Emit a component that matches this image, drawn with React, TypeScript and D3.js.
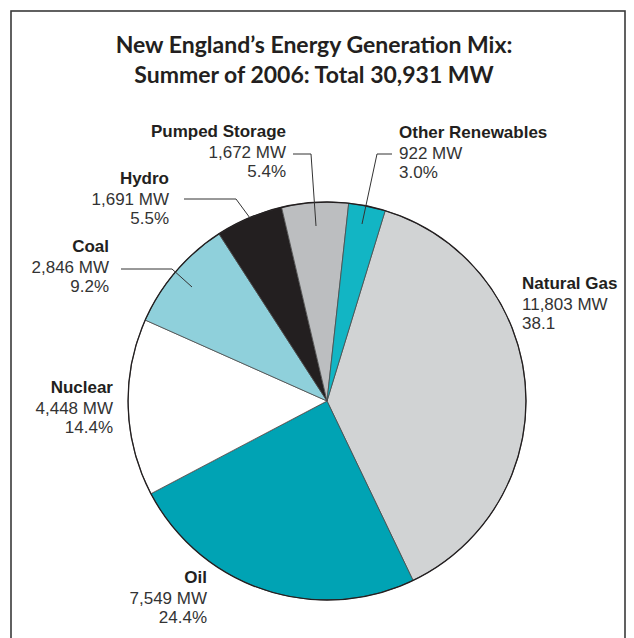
import React from "react";
import * as d3 from "d3";

const categories = ["Natural Gas", "Oil", "Nuclear", "Coal", "Hydro", "Pumped Storage", "Other Renewables"];
const values = [11803, 7549, 4448, 2846, 1691, 1672, 922];
const mwLabels = ["11,803 MW", "7,549 MW", "4,448 MW", "2,846 MW", "1,691 MW", "1,672 MW", "922 MW"];
const pctLabels = ["38.1", "24.4%", "14.4%", "9.2%", "5.5%", "5.4%", "3.0%"];
const colors = ["#d1d3d4", "#00a3b4", "#ffffff", "#8fd0db", "#231f20", "#bcbec0", "#12b5c4"];
const titleLines = ["New England\u2019s Energy Generation Mix:", "Summer of 2006: Total 30,931 MW"];

// label layout: [x, baselineY, anchor]
const labelPos: [number, number, "start" | "end"][] = [
  [522, 289, "start"],
  [207, 583, "end"],
  [113, 393, "end"],
  [109, 252, "end"],
  [169, 184, "end"],
  [286, 137, "end"],
  [399, 138, "start"],
];
// leader lines as polylines
const leaders: Record<number, [number, number][]> = {
  3: [[121, 269], [172, 269], [192, 287]],
  4: [[184, 199], [236, 199], [250, 218]],
  5: [[293, 154], [311, 154], [316, 226]],
  6: [[392, 154], [377, 154], [362, 224]],
};

export default function App() {
  const W = 634, H = 638;
  const cx = 327, cy = 401, r = 199;
  const start = (17 * Math.PI) / 180;
  const pie = d3.pie<number>().sort(null).startAngle(start).endAngle(start + 2 * Math.PI);
  const arcs = pie(values);
  const arc = d3.arc<d3.PieArcDatum<number>>().innerRadius(0).outerRadius(r);
  const line = d3.line();
  const fontLbl = "'Liberation Sans', Arial, sans-serif";
  return (
    <svg width={W} height={H} style={{ position: "absolute", left: 0, top: 0, background: "#fff" }}>
      <rect x={11} y={11} width={614} height={700} fill="#fff" stroke="#3a3a3a" strokeWidth={1.6} />
      {titleLines.map((t, i) => (
        <text key={i} x={314} y={53 + i * 30} textAnchor="middle" fontFamily="Lato, 'Open Sans', sans-serif"
          fontWeight={700} fontSize={23} fill="#231f20">{t}</text>
      ))}
      <g transform={`translate(${cx},${cy})`}>
        {arcs.map((a, i) => (
          <path key={i} d={arc(a) || ""} fill={colors[i]} stroke="#4a4a4a" strokeWidth={0.8} />
        ))}
        <circle r={r} fill="none" stroke="#231f20" strokeWidth={1.3} />
      </g>
      {Object.entries(leaders).map(([k, pts]) => (
        <path key={k} d={line(pts) || ""} fill="none" stroke="#333" strokeWidth={1} />
      ))}
      {categories.map((c, i) => {
        const [x, y, anchor] = labelPos[i];
        return (
          <text key={c} x={x} y={y} textAnchor={anchor} fontFamily={fontLbl} fontSize={17} fill="#231f20">
            <tspan x={x} fontWeight={700}>{c}</tspan>
            <tspan x={x} dy={20.5} fill="#333">{mwLabels[i]}</tspan>
            <tspan x={x} dy={19.5} fill="#333">{pctLabels[i]}</tspan>
          </text>
        );
      })}
    </svg>
  );
}
